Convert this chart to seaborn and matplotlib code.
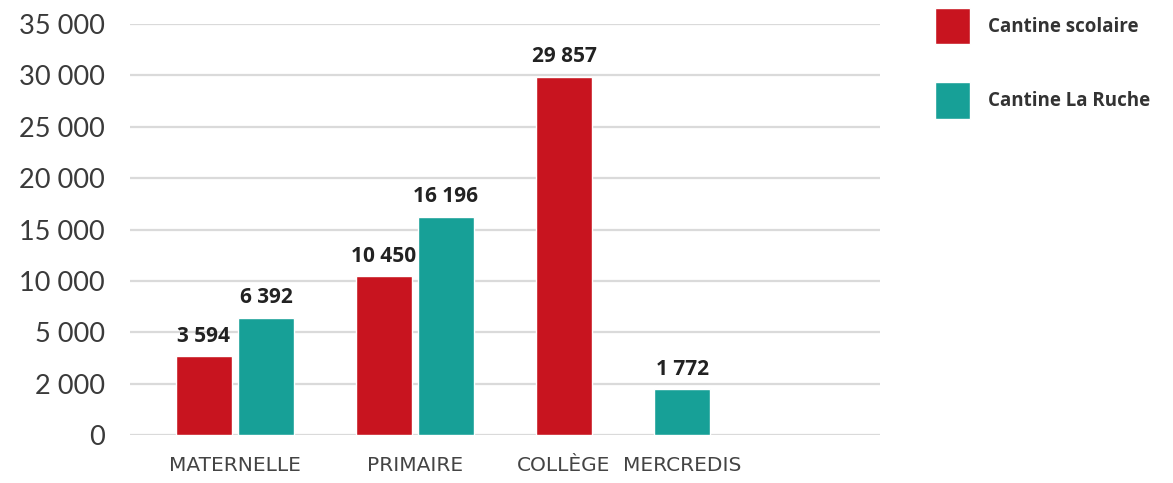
import numpy as np
import pandas as pd
import matplotlib
matplotlib.use("Agg")
import matplotlib.pyplot as plt
import seaborn as sns

# ---------------- data ----------------
categories = ["MATERNELLE", "PRIMAIRE", "COLLÈGE", "MERCREDIS"]
series = ["Cantine scolaire", "Cantine La Ruche"]
scolaire = [3594, 10450, 29857, None]
la_ruche = [6392, 16196, None, 1772]
y_ticks = [0, 2000, 5000, 10000, 15000, 20000, 25000, 30000, 35000]
y_tick_labels = ["0", "2 000", "5 000", "10 000", "15 000", "20 000",
                 "25 000", "30 000", "35 000"]

colors = {"Cantine scolaire": "#C8141F", "Cantine La Ruche": "#17A097"}

# ---------------- layout (bars packed group by group) ----------------
GROUP_GAP = 56 / 62  # extra gap between groups, in bar-pitch units
rows, centers = [], []
pos = 0.0
for i, cat in enumerate(categories):
    start = pos
    for s, vals in zip(series, [scolaire, la_ruche]):
        v = vals[i]
        if v is None:
            continue
        rows.append(dict(pos=pos, value=v, serie=s, cat=cat))
        pos += 1
    centers.append((start + pos - 1) / 2)
    pos += GROUP_GAP
df = pd.DataFrame(rows)

sns.set_theme(style="white")
plt.rcParams["font.family"] = ["Lato", "DejaVu Sans"]

fig = plt.figure(figsize=(11.73, 4.83), dpi=100)
ax = fig.add_axes([130 / 1173, 48 / 483, 750 / 1173, 411 / 483])

# non-linear y axis: tick values equally spaced
idx = np.arange(len(y_ticks), dtype=float)
fwd = lambda y: np.interp(y, y_ticks, idx)
inv = lambda v: np.interp(v, idx, y_ticks)
ax.set_yscale("function", functions=(fwd, inv))

sns.barplot(data=df, x="pos", y="value", hue="serie", hue_order=series,
            palette=colors, native_scale=True, dodge=False, width=56 / 62,
            saturation=1, errorbar=None, ax=ax, zorder=3)

for cont in ax.containers:
    labels = [f"{v:,.0f}".replace(",", " ") for v in cont.datavalues]
    ax.bar_label(cont, labels=labels, padding=7, fontsize=15,
                 fontweight="bold", color="#222222",
                 family=["Open Sans", "DejaVu Sans"])

ax.set_ylim(0, 35000)
ax.set_yticks(y_ticks)
ax.set_yticklabels(y_tick_labels)
ax.yaxis.set_minor_locator(matplotlib.ticker.NullLocator())
ax.tick_params(axis="y", length=0, pad=18, labelsize=19.5, labelcolor="#3A3A3A")
ax.grid(axis="y", color="#DADADA", linewidth=1.6, zorder=0)
ax.set_axisbelow(True)

first, last = df["pos"].min(), df["pos"].max()
ax.set_xlim(first - 0.4516 - 46 / 62, last + 0.4516 + 170 / 62)
ax.set_xticks(centers)
ax.set_xticklabels(categories, family=["Liberation Sans Narrow", "DejaVu Sans"])
ax.tick_params(axis="x", length=0, pad=15, labelsize=14.5, labelcolor="#444444")
ax.set_xlabel("")
ax.set_ylabel("")
for sp in ax.spines.values():
    sp.set_visible(False)

sns.move_legend(ax, "upper left", bbox_to_anchor=(935 / 1173, 1 - 8 / 483),
                bbox_transform=fig.transFigure, frameon=False, title=None,
                handlelength=1.85, handleheight=2.6, labelspacing=2.03,
                handletextpad=1.0, borderpad=0, borderaxespad=0,
                prop=dict(family=["Open Sans", "DejaVu Sans"], weight="bold",
                          size=13.5))
for t in ax.get_legend().get_texts():
    t.set_color("#333333")

fig.savefig("out.png", dpi=100)
